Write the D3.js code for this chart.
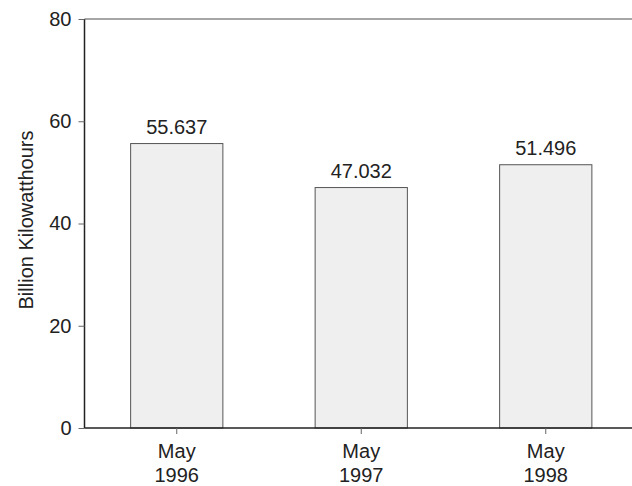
<!DOCTYPE html>
<html>
<head>
<meta charset="utf-8">
<script src="https://cdn.jsdelivr.net/npm/d3@7"></script>
<style>
  body { margin: 0; background: #fff; }
  text { font-family: "Liberation Sans", Arial, sans-serif; fill: #222; }
</style>
</head>
<body>
<svg width="632" height="486"></svg>
<script>
// data
let months = ["May", "May", "May"];
let years = ["1996", "1997", "1998"];
let values = [55.637, 47.032, 51.496];
let yTicks = [0, 20, 40, 60, 80];

let svg = d3.select("svg");
let plotLeft = 84.5, plotRight = 638, plotTop = 19, plotBottom = 428;

let xScale = d3.scaleBand()
  .domain(years)
  .range([plotLeft, plotRight])
  .paddingInner(0.5)
  .paddingOuter(0.25);

let yScale = d3.scaleLinear().domain([0, 80]).range([plotBottom, plotTop]);

// top gray line at 80
svg.append("line")
  .attr("x1", plotLeft).attr("x2", 632)
  .attr("y1", yScale(80)).attr("y2", yScale(80))
  .attr("stroke", "#888").attr("stroke-width", 1.5);

// bars
svg.selectAll(".bar")
  .data(values)
  .enter()
  .append("rect")
  .attr("class", "bar")
  .attr("x", function(d, i) { return xScale(years[i]); })
  .attr("y", function(d) { return yScale(d); })
  .attr("width", xScale.bandwidth())
  .attr("height", function(d) { return plotBottom - yScale(d); })
  .attr("fill", "#efefef")
  .attr("stroke", "#555")
  .attr("stroke-width", 1);

// value labels
svg.selectAll(".label")
  .data(values)
  .enter()
  .append("text")
  .attr("class", "label")
  .attr("x", function(d, i) { return xScale(years[i]) + xScale.bandwidth() / 2; })
  .attr("y", function(d) { return yScale(d) - 10; })
  .attr("text-anchor", "middle")
  .attr("font-size", "20px")
  .text(function(d) { return d3.format(".3f")(d); });

// y axis
let yAxis = svg.append("g")
  .attr("transform", "translate(" + plotLeft + ",0)")
  .call(d3.axisLeft(yScale).tickValues(yTicks).tickSize(6).tickPadding(7).tickFormat(d3.format("d")));
yAxis.select(".domain").attr("stroke", "#222").attr("stroke-width", 1.5)
  .attr("d", "M0," + plotTop + "V" + plotBottom);
yAxis.selectAll(".tick line").attr("stroke", "#666");
yAxis.selectAll(".tick text").attr("font-size", "20px").attr("fill", "#222")
  .style("font-family", "'Liberation Sans', Arial, sans-serif");

// x axis
let xAxis = svg.append("g")
  .attr("transform", "translate(0," + plotBottom + ")")
  .call(d3.axisBottom(xScale).tickSize(6).tickFormat(""));
xAxis.select(".domain").attr("stroke", "#222").attr("stroke-width", 1.5)
  .attr("d", "M" + plotLeft + ",0H632");
xAxis.selectAll(".tick line").attr("stroke", "#666");

// two-line x labels
let xl = svg.selectAll(".xlabel")
  .data(years)
  .enter()
  .append("text")
  .attr("class", "xlabel")
  .attr("text-anchor", "middle")
  .attr("font-size", "20px")
  .attr("transform", function(d) { return "translate(" + (xScale(d) + xScale.bandwidth() / 2) + ",0)"; });
xl.append("tspan").attr("x", 0).attr("y", 458).text(function(d, i) { return months[i]; });
xl.append("tspan").attr("x", 0).attr("y", 482).text(function(d) { return d; });

// y axis title
svg.append("text")
  .attr("transform", "translate(33,220) rotate(-90)")
  .attr("text-anchor", "middle")
  .attr("font-size", "20px")
  .text("Billion Kilowatthours");
</script>
</body>
</html>
